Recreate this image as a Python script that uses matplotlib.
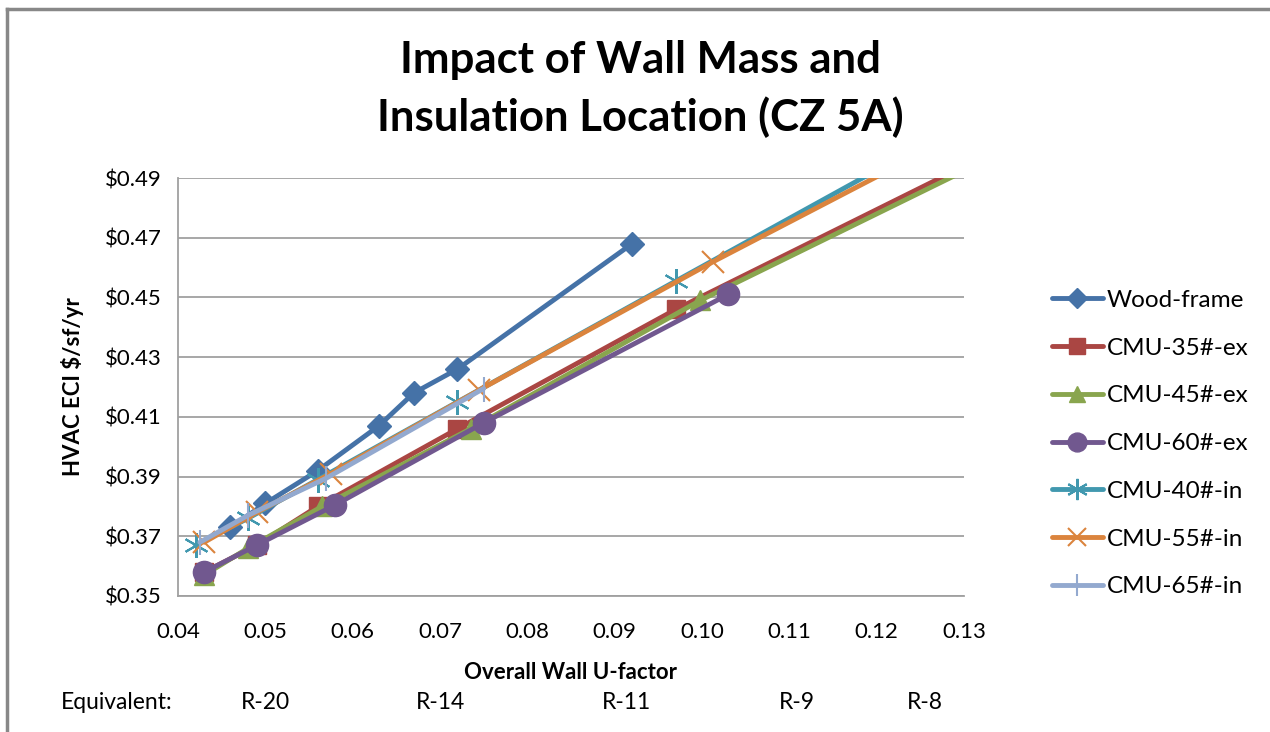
import numpy as np
import matplotlib
matplotlib.use("Agg")
import matplotlib.pyplot as plt
from matplotlib.lines import Line2D

plt.rcParams['font.family'] = ['Lato', 'DejaVu Sans']

# series data (U-factor, HVAC ECI $/sf/yr); last points of some lines run past the plot edge
wood_u = [0.046, 0.050, 0.056, 0.063, 0.067, 0.072, 0.092]
wood_c = [0.373, 0.381, 0.392, 0.407, 0.418, 0.426, 0.468]

cmu35ex_u = [0.043, 0.049, 0.056, 0.072, 0.097, 0.150]
cmu35ex_c = [0.358, 0.367, 0.380, 0.406, 0.446, 0.523]

cmu45ex_u = [0.043, 0.048, 0.0565, 0.0735, 0.0998, 0.150]
cmu45ex_c = [0.357, 0.366, 0.380, 0.406, 0.449, 0.521]

cmu60ex_u = [0.043, 0.049, 0.058, 0.075, 0.103]
cmu60ex_c = [0.358, 0.367, 0.3805, 0.408, 0.451]

cmu40in_u = [0.042, 0.048, 0.056, 0.072, 0.097, 0.150]
cmu40in_c = [0.367, 0.376, 0.389, 0.415, 0.4555, 0.541]

cmu55in_u = [0.043, 0.049, 0.0575, 0.0745, 0.1013, 0.150]
cmu55in_c = [0.368, 0.378, 0.391, 0.419, 0.462, 0.536]

cmu65in_u = [0.0425, 0.048, 0.057, 0.075]
cmu65in_c = [0.368, 0.377, 0.3895, 0.4195]

series_names = ["Wood-frame", "CMU-35#-ex", "CMU-45#-ex", "CMU-60#-ex",
                "CMU-40#-in", "CMU-55#-in", "CMU-65#-in"]

x_ticks = [0.04, 0.05, 0.06, 0.07, 0.08, 0.09, 0.10, 0.11, 0.12, 0.13]
y_ticks = [0.35, 0.37, 0.39, 0.41, 0.43, 0.45, 0.47, 0.49]

equiv_labels = ["R-20", "R-14", "R-11", "R-9", "R-8"]
equiv_u = [0.050, 0.070, 0.0913, 0.1109, 0.1255]

fig = plt.figure(figsize=(12.7, 7.32), dpi=100)
ax = fig.add_axes([0.1402, 0.1858, 0.759 - 0.1402, 0.7568 - 0.1858])

styles = [
    dict(color="#4572A7", marker="D", ms=12),
    dict(color="#AA4643", marker="s", ms=13),
    dict(color="#89A54E", marker="^", ms=14),
    dict(color="#71588F", marker="o", ms=16),
    dict(color="#4198AF", marker=(6, 2, 0), ms=18, mew=1.5),
    dict(color="#DB843D", marker="x", ms=16, mew=1.5),
    dict(color="#93A9CF", marker="|", ms=18, mew=1.5),
]
data = [(wood_u, wood_c), (cmu35ex_u, cmu35ex_c), (cmu45ex_u, cmu45ex_c),
        (cmu60ex_u, cmu60ex_c), (cmu40in_u, cmu40in_c), (cmu55in_u, cmu55in_c),
        (cmu65in_u, cmu65in_c)]

handles = []
for (u, c), name, st in zip(data, series_names, styles):
    ln, = ax.plot(u, c, lw=3.5, label=name, solid_capstyle="round", **st)
    handles.append(ln)

ax.set_xlim(0.04, 0.13)
ax.set_ylim(0.35, 0.49)
ax.set_xticks(x_ticks)
ax.set_xticklabels([f"{v:.2f}" for v in x_ticks], fontsize=16)
ax.set_yticks(y_ticks)
ax.set_yticklabels([f"${v:.2f}" for v in y_ticks], fontsize=16)
ax.tick_params(axis="y", length=0, pad=12)
ax.tick_params(axis="x", length=0, pad=19)
ax.grid(axis="y", color="#a0a0a0", lw=1.3)
ax.set_axisbelow(True)
for s in ["top", "right"]:
    ax.spines[s].set_visible(False)
for s in ["left", "bottom"]:
    ax.spines[s].set_color("#a0a0a0")
    ax.spines[s].set_linewidth(1.3)

ax.set_ylabel("HVAC ECI $/sf/yr", fontsize=16, fontweight="bold", labelpad=14.5)
ax.set_xlabel("Overall Wall U-factor", fontsize=16, fontweight="bold", labelpad=14)

fig.text(0.504, 1 - 89 / 732, "Impact of Wall Mass and\nInsulation Location (CZ 5A)",
         fontsize=31.5, fontweight="bold", ha="center", va="center", linespacing=1.45)

# equivalent R-value row under the x axis
tr = ax.get_xaxis_transform()
ax.text(0.033, -0.256, "Equivalent:", transform=tr, fontsize=16.5,
        ha="center", va="center", clip_on=False)
for lab, u in zip(equiv_labels, equiv_u):
    ax.text(u, -0.256, lab, transform=tr, fontsize=16.5, ha="center",
            va="center", clip_on=False)

leg = fig.legend(handles=handles, loc="center left", bbox_to_anchor=(0.811, 0.394),
                 frameon=False, fontsize=17.5, handlelength=2.1, labelspacing=1.1,
                 handletextpad=0.15, markerscale=0.85)

# outer chart frame (top and left edges visible)
fig.add_artist(Line2D([0.0055, 1.0], [0.988, 0.988], transform=fig.transFigure,
                      color="#888888", lw=2.5))
fig.add_artist(Line2D([0.0055, 0.0055], [0.0, 0.988], transform=fig.transFigure,
                      color="#888888", lw=2.5))

fig.savefig("out.png", dpi=100)
